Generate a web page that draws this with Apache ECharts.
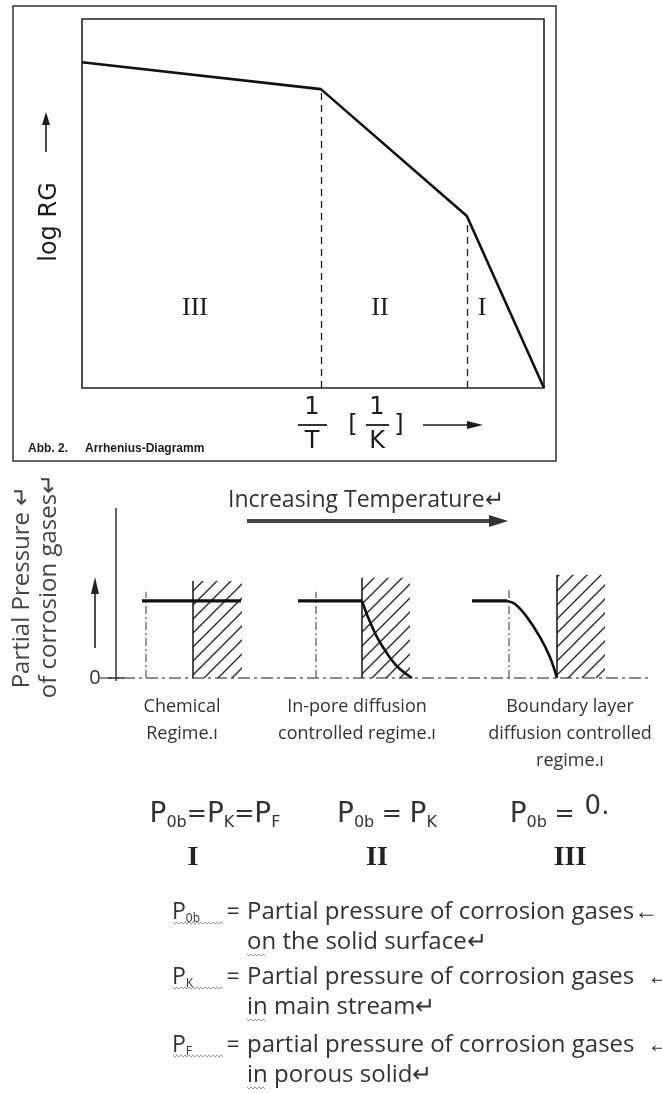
<!DOCTYPE html>
<html><head><meta charset="utf-8">
<script src="https://cdn.jsdelivr.net/npm/echarts@6/dist/echarts.min.js"></script>
<style>html,body{margin:0;padding:0;background:#fff}#c{width:662px;height:1093px}</style>
</head><body><div id="c"></div>
<script>
// ---------- data ----------
// Arrhenius diagram: x = 1/T (relative), y = log RG (relative)
const arrhX = [0, 51.7, 83.3, 100];
const arrhY = [88.3, 81.0, 46.6, 0];
const regimeTop = ['III', 'II', 'I'];

// partial-pressure profiles (x: distance, solid surface at 0; y: relative pressure)
const p1Flat  = [[-1.02, 1], [0.96, 1]];
const p1Curve = [];
const p2Flat  = [[-1.28, 1], [0, 1]];
const p2Curve = [[0, 1], [0.12, 0.79], [0.3, 0.53], [0.5, 0.32], [0.72, 0.14], [1.0, 0]];
const p3Flat  = [[-1.7, 1], [-1.0, 1]];
const p3Curve = [[-1.0, 1], [-0.84, 0.96], [-0.6, 0.79], [-0.34, 0.53], [-0.14, 0.27], [0, 0]];
const wallTop    = [1.26, 1.30, 1.34];
const hatchRight = [0.98, 0.96, 0.96];
const refLineX   = [-0.94, -0.92, -0.96];
const refLineTop = [1.12, 1.12, 1.14];

const panelLabels = [['Chemical', 'Regime.ı'], ['In-pore diffusion', 'controlled regime.ı'], ['Boundary layer', 'diffusion controlled', 'regime.ı']];
const roman = ['I', 'II', 'III'];
const defLines = ['Partial pressure of corrosion gases←', 'on the solid surface↵', 'Partial pressure of corrosion gases  ←', 'in main stream↵', 'partial pressure of corrosion gases  ←', 'in porous solid↵'];
const defSubs = ['0b', 'K', 'F'];

// ---------- helpers ----------
function hatchCanvas() {
  const s = 14, c = document.createElement('canvas');
  c.width = s; c.height = s;
  const g = c.getContext('2d');
  g.strokeStyle = '#2a2a2a'; g.lineWidth = 1.4;
  g.beginPath();
  g.moveTo(0, s); g.lineTo(s, 0);
  g.moveTo(-4, 4); g.lineTo(4, -4);
  g.moveTo(s - 4, s + 4); g.lineTo(s + 4, s - 4);
  g.stroke();
  return c;
}
const hatch = { image: hatchCanvas(), repeat: 'repeat' };
const dark = '#1c1c1c', grey = '#333';
const SANS = '"Open Sans"';

function txt(x, y, text, font, opt) {
  return Object.assign({ type: 'text', x: x, y: y, silent: true,
    style: Object.assign({ text: text, font: font, fill: dark, align: 'center', verticalAlign: 'middle' }, (opt && opt.style) || {}) },
    opt && opt.rotation !== undefined ? { rotation: opt.rotation } : {});
}
function line(x1, y1, x2, y2, w, color, dash) {
  return { type: 'line', silent: true, shape: { x1, y1, x2, y2 }, style: { stroke: color || dark, lineWidth: w || 1.5, lineDash: dash || null } };
}
function poly(points, color) {
  return { type: 'polygon', silent: true, shape: { points }, style: { fill: color || dark } };
}
function squiggle(x1, x2, y) {
  const pts = []; let up = true;
  for (let x = x1; x <= x2; x += 2) { pts.push([x, y + (up ? -1.2 : 1.2)]); up = !up; }
  return { type: 'polyline', silent: true, shape: { points: pts }, style: { stroke: '#8a8f9a', lineWidth: 0.9, fill: null } };
}

// ---------- grids / axes ----------
const panelLeft = [93, 262, 457];
const grids = [{ left: 82, top: 19, width: 462, height: 369, show: true, borderColor: '#222', borderWidth: 1.6, backgroundColor: 'transparent' }];
const xAxes = [{ type: 'value', gridIndex: 0, min: 0, max: 100, show: false }];
const yAxes = [{ type: 'value', gridIndex: 0, min: 0, max: 100, show: false }];
panelLeft.forEach((l, i) => {
  grids.push({ left: l, top: 574, width: 160, height: 104, show: false });
  xAxes.push({ type: 'value', gridIndex: i + 1, min: -2, max: 1.2, show: false });
  yAxes.push({ type: 'value', gridIndex: i + 1, min: 0, max: 1.35, show: false });
});

// ---------- series ----------
const series = [{
  type: 'line', xAxisIndex: 0, yAxisIndex: 0, symbol: 'none', silent: true,
  data: arrhX.map((x, i) => [x, arrhY[i]]),
  lineStyle: { color: '#111', width: 2.6 },
  markLine: {
    silent: true, symbol: 'none', label: { show: false },
    lineStyle: { color: '#222', width: 1.3, type: [7, 5] },
    data: [1, 2].map(k => [{ coord: [arrhX[k], 0] }, { coord: [arrhX[k], arrhY[k]] }])
  }
}];
const flats = [p1Flat, p2Flat, p3Flat], curves = [p1Curve, p2Curve, p3Curve];
for (let i = 0; i < 3; i++) {
  const ax = { xAxisIndex: i + 1, yAxisIndex: i + 1, symbol: 'none', silent: true, type: 'line' };
  series.push(Object.assign({}, ax, {
    data: [[0, 0], [0, wallTop[i]]], z: 3,
    lineStyle: { color: '#222', width: 1.6 },
    markArea: { silent: true, label: { show: false },
      itemStyle: { color: hatch, opacity: 1, borderWidth: 0 },
      data: [[{ coord: [0, 0] }, { coord: [hatchRight[i], wallTop[i]] }]] }
  }));
  series.push(Object.assign({}, ax, {
    data: [[refLineX[i], 0], [refLineX[i], refLineTop[i]]], z: 2,
    lineStyle: { color: '#555', width: 1.2, type: [8, 3, 2, 3] }
  }));
  series.push(Object.assign({}, ax, { data: flats[i], z: 4, lineStyle: { color: '#111', width: 3.2 } }));
  if (curves[i].length) series.push(Object.assign({}, ax, { data: curves[i], z: 4, smooth: 0.35, lineStyle: { color: '#111', width: 2.6 } }));
}

// ---------- decorations / text ----------
const g = [];
// outer frame of Arrhenius figure
g.push({ type: 'rect', silent: true, shape: { x: 13, y: 6, width: 543, height: 455 }, style: { fill: 'none', stroke: '#333', lineWidth: 1.5 } });
// y label + arrow
g.push(txt(50, 222, 'log RG', '24px "DejaVu Sans"', { rotation: Math.PI / 2 }));
g.push(line(46, 152, 46, 122, 1.6));
g.push(poly([[42, 125], [50, 125], [46, 112]]));
// regime labels in plot
[195, 380, 482].forEach((x, i) => g.push(txt(x, 308, regimeTop[i], '26px "Liberation Serif"')));
// x label 1/T [1/K] ->
g.push(txt(312, 408, '1', '24px "DejaVu Sans"'));
g.push(line(298, 425, 327, 425, 1.8));
g.push(txt(312, 442, 'T', '24px "DejaVu Sans"'));
g.push(txt(353, 426, '[', '24px "DejaVu Sans"'));
g.push(txt(377, 408, '1', '24px "DejaVu Sans"'));
g.push(line(366, 425, 389, 425, 1.8));
g.push(txt(377, 442, 'K', '24px "DejaVu Sans"'));
g.push(txt(399, 426, ']', '24px "DejaVu Sans"'));
g.push(line(423, 425, 470, 425, 1.6));
g.push(poly([[467, 421], [467, 429], [483, 425]]));
// caption
g.push(txt(28, 449, 'Abb. 2.', 'bold 12px "Liberation Sans"', { style: { align: 'left' } }));
g.push(txt(85, 449, 'Arrhenius-Diagramm', 'bold 12px "Liberation Sans"', { style: { align: 'left' } }));

// bottom schematic
g.push(txt(22, 587, 'Partial Pressure ↵', '24px ' + SANS, { rotation: Math.PI / 2, style: { fill: '#444' } }));
g.push(txt(49, 586, 'of corrosion gases↵', '24px ' + SANS, { rotation: Math.PI / 2, style: { fill: '#444' } }));
g.push(txt(228, 500, 'Increasing Temperature↵', '23px ' + SANS, { style: { align: 'left', fill: grey } }));
g.push(line(247, 521, 492, 521, 4, '#444'));
g.push(poly([[489, 515], [489, 527], [508, 521]], '#333'));
g.push(line(116, 508, 116, 681, 1.5, '#333'));
g.push(line(108, 678, 124, 678, 1.5, '#333'));
g.push(txt(95, 678, '0', '20px ' + SANS, { style: { fill: grey } }));
g.push(line(95, 648, 95, 592, 1.6, '#222'));
g.push(poly([[91, 594], [99, 594], [95, 577]], '#222'));
g.push({ type: 'line', silent: true, z: -1, shape: { x1: 100, y1: 678, x2: 652, y2: 678 }, style: { stroke: '#666', lineWidth: 1.5, lineDash: [12, 4, 3, 4] } });

// panel captions
[182, 357, 570].forEach((cx, i) => panelLabels[i].forEach((t, k) => g.push(txt(cx, 707 + 27 * k, t, '18px ' + SANS, { style: { fill: grey } }))));

// equations
const eqRich = {
  p: { fontSize: 28, fontFamily: '"DejaVu Sans"', lineHeight: 32, verticalAlign: 'middle', fill: grey },
  s: { fontSize: 16, fontFamily: '"DejaVu Sans"', lineHeight: 19, verticalAlign: 'bottom', fill: grey },
  e: { fontSize: 24, fontFamily: '"DejaVu Sans"', lineHeight: 32, verticalAlign: 'middle', fill: grey }
};
const eqs = ['{p|P}{s|0b}{e|=}{p|P}{s|K}{e|=}{p|P}{s|F}', '{p|P}{s|0b}{e| = }{p|P}{s|K}', '{p|P}{s|0b}{e| = }'];
[215, 387, 546].forEach((cx, i) => g.push({ type: 'text', x: cx, y: 815, silent: true, style: { text: eqs[i], rich: eqRich, align: 'center', verticalAlign: 'middle' } }));
g.push(txt(597, 807, '0.', '26px "DejaVu Sans"', { style: { fill: grey } }));
[193, 377, 570].forEach((cx, i) => g.push(txt(cx, 858, roman[i], 'bold 28px "Liberation Serif"', { style: { fill: '#222' } })));

// definitions
const defY = [912, 942, 977, 1007, 1045, 1075];
const defRich = {
  p: { fontSize: 23, fontFamily: SANS, lineHeight: 26, verticalAlign: 'middle', fill: grey },
  s: { fontSize: 12, fontFamily: SANS, lineHeight: 16, verticalAlign: 'bottom', fill: grey }
};
defSubs.forEach((s, i) => {
  const y = defY[2 * i];
  g.push({ type: 'text', x: 172, y: y, silent: true, style: { text: '{p|P}{s|' + s + '}', rich: defRich, align: 'left', verticalAlign: 'middle' } });
  g.push(squiggle(173, 224, y + 11));
  g.push(txt(233, y, '=', '23px ' + SANS, { style: { fill: grey } }));
});
defLines.forEach((t, k) => {
  g.push(txt(247, defY[k], t, '24px ' + SANS, { style: { align: 'left', fill: grey } }));
  if (k % 2 === 1) g.push(squiggle(247, 266, defY[k] + 13));
});

const chart = echarts.init(document.getElementById('c'), null, { renderer: 'canvas' });
chart.setOption({
  animation: false,
  backgroundColor: '#fff',
  grid: grids, xAxis: xAxes, yAxis: yAxes,
  series: series,
  graphic: { elements: g }
});
</script></body></html>
